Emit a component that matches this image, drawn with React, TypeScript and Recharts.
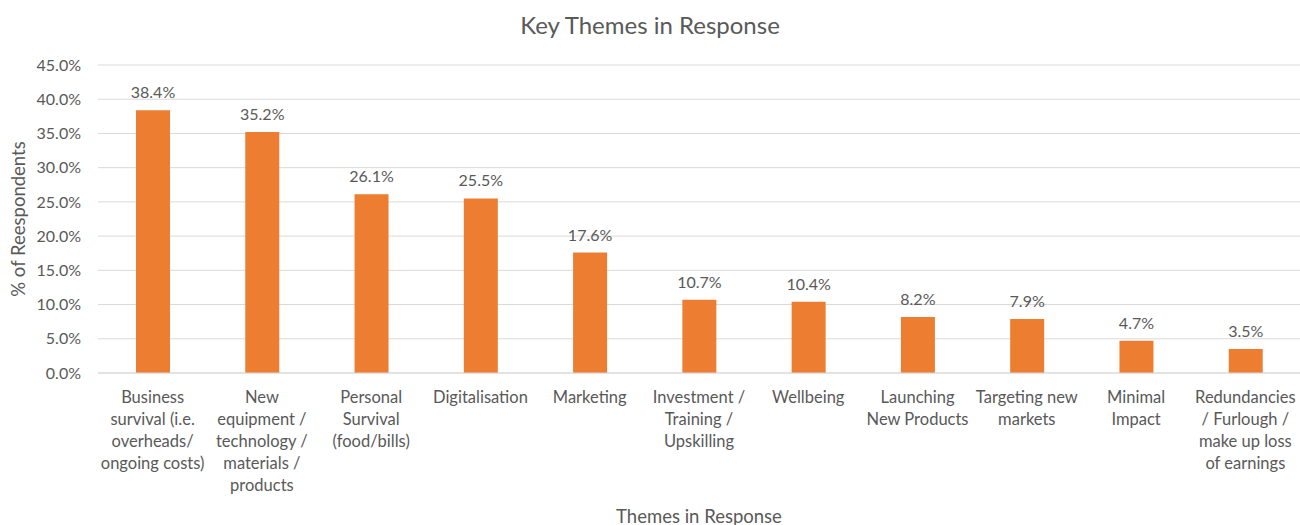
import React from "react";
import { BarChart, Bar, XAxis, YAxis, CartesianGrid, LabelList } from "recharts";

const categories = [
  "Business\nsurvival (i.e.\noverheads/\nongoing costs)",
  "New\nequipment /\ntechnology /\nmaterials /\nproducts",
  "Personal\nSurvival\n(food/bills)",
  "Digitalisation",
  "Marketing",
  "Investment /\nTraining /\nUpskilling",
  "Wellbeing",
  "Launching\nNew Products",
  "Targeting new\nmarkets",
  "Minimal\nImpact",
  "Redundancies\n/ Furlough /\nmake up loss\nof earnings",
];

const percentages = [38.4, 35.2, 26.1, 25.5, 17.6, 10.7, 10.4, 8.2, 7.9, 4.7, 3.5];

const yTicks = [0, 5, 10, 15, 20, 25, 30, 35, 40, 45];

const data = categories.map((name, i) => ({ name, value: percentages[i] }));

const TEXT = "#595959";
const FONT = "Lato, 'Open Sans', sans-serif";

function CategoryTick({ x, y, payload }: any) {
  const lines = String(payload.value).split("\n");
  return (
    <text x={x} y={y} textAnchor="middle" fill={TEXT} fontSize={16.5} fontFamily={FONT}>
      {lines.map((line, i) => (
        <tspan key={i} x={x} dy={22}>
          {line}
        </tspan>
      ))}
    </text>
  );
}

export default function App() {
  return (
    <div style={{ position: "absolute", left: 0, top: 0, width: 1300, height: 525, fontFamily: FONT, background: "#fff" }}>
      <div
        style={{
          position: "absolute",
          top: 10,
          left: 0,
          width: 1300,
          textAlign: "center",
          fontSize: 24,
          color: TEXT,
        }}
      >
        Key Themes in Response
      </div>
      <div
        style={{
          position: "absolute",
          left: 18,
          top: 219,
          transform: "translate(-50%, -50%) rotate(-90deg)",
          whiteSpace: "nowrap",
          fontSize: 18.5,
          color: TEXT,
        }}
      >
        % of Reespondents
      </div>
      <div
        style={{
          position: "absolute",
          left: 98,
          width: 1202,
          top: 505,
          textAlign: "center",
          fontSize: 18.5,
          color: TEXT,
        }}
      >
        Themes in Response
      </div>
      <BarChart width={1300} height={525} data={data} margin={{ top: 65, right: 0, left: 0, bottom: 0 }}>
        <CartesianGrid vertical={false} stroke="#D9D9D9" />
        <XAxis
          dataKey="name"
          interval={0}
          height={152}
          axisLine={{ stroke: "#D9D9D9" }}
          tickLine={false}
          tick={<CategoryTick />}
        />
        <YAxis
          width={98}
          domain={[0, 45]}
          ticks={yTicks}
          tickFormatter={(v: number) => `${v.toFixed(1)}%`}
          axisLine={false}
          tickLine={false}
          tickMargin={11}
          tick={{ fill: TEXT, fontSize: 16, fontFamily: FONT }}
        />
        <Bar dataKey="value" fill="#ED7D31" barSize={34} isAnimationActive={false}>
          <LabelList
            dataKey="value"
            position="top"
            offset={12}
            fill={TEXT}
            fontSize={16}
            fontFamily={FONT}
            formatter={(v: any) => `${Number(v).toFixed(1)}%`}
          />
        </Bar>
      </BarChart>
    </div>
  );
}
